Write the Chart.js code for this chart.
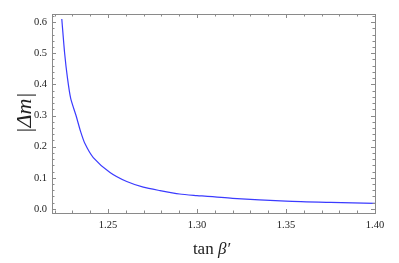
<!DOCTYPE html>
<html>
<head>
<meta charset="utf-8">
<script src="https://cdn.jsdelivr.net/npm/chart.js@4/dist/chart.umd.min.js"></script>
<style>
html,body{margin:0;padding:0;background:#fff;}
#wrap{width:399px;height:263px;position:relative;}
</style>
</head>
<body>
<div id="wrap"><canvas id="c" width="399" height="263"></canvas></div>
<script>
// Data
const tanBeta = [1.2240, 1.2256, 1.2272, 1.2290, 1.2320, 1.2345, 1.2370, 1.2417, 1.2511, 1.2605, 1.2698, 1.2792, 1.2902, 1.3000, 1.3200, 1.3500, 1.3750, 1.4000];
const deltaM  = [0.610, 0.500, 0.420, 0.355, 0.300, 0.250, 0.210, 0.165, 0.117, 0.088, 0.070, 0.059, 0.048, 0.043, 0.034, 0.025, 0.021, 0.018];
const xTickValues = [1.25, 1.30, 1.35, 1.40];
const yTickValues = [0.0, 0.1, 0.2, 0.3, 0.4, 0.5, 0.6];
const xTitleUpright = "tan ";
const xTitleItalic = "β′";
const yTitle = "|Δm|";

const points = tanBeta.map((x, i) => ({x: x, y: deltaM[i]}));

const framePlugin = {
  id: 'frame',
  afterDraw(chart) {
    const ctx = chart.ctx;
    const a = chart.chartArea;
    const xs = chart.scales.x, ys = chart.scales.y;
    ctx.save();
    ctx.strokeStyle = '#8a8a8a';
    ctx.lineWidth = 1;
    ctx.strokeRect(Math.round(a.left) + 0.5, Math.round(a.top) + 0.5, Math.round(a.right - a.left), Math.round(a.bottom - a.top));
    ctx.beginPath();
    for (let k = 122; k <= 140; k++) {
      const v = k / 100;
      if (v < xs.min - 1e-9 || v > xs.max + 1e-9) continue;
      const px = Math.round(xs.getPixelForValue(v)) + 0.5;
      const len = (k % 5 === 0) ? 4 : 2.5;
      ctx.moveTo(px, a.bottom); ctx.lineTo(px, a.bottom - len);
      ctx.moveTo(px, a.top); ctx.lineTo(px, a.top + len);
    }
    for (let k = 0; k <= 31; k++) {
      const v = k * 0.02;
      if (v < ys.min - 1e-9 || v > ys.max + 1e-9) continue;
      const py = Math.round(ys.getPixelForValue(v)) + 0.5;
      const len = (k % 5 === 0) ? 4 : 2.5;
      ctx.moveTo(a.left, py); ctx.lineTo(a.left + len, py);
      ctx.moveTo(a.right, py); ctx.lineTo(a.right - len, py);
    }
    ctx.stroke();

    ctx.fillStyle = '#222';
    ctx.textBaseline = 'alphabetic';
    const f1 = '17px "Liberation Serif", "DejaVu Serif", serif';
    const f2 = 'italic 17px "Liberation Serif", "DejaVu Serif", serif';
    ctx.font = f1; const w1 = ctx.measureText(xTitleUpright).width;
    ctx.font = f2; const w2 = ctx.measureText(xTitleItalic).width;
    const cx = (a.left + a.right) / 2 - 2;
    let sx = cx - (w1 + w2) / 2;
    ctx.font = f1; ctx.textAlign = 'left';
    ctx.fillText(xTitleUpright, sx, 254);
    ctx.font = f2;
    ctx.fillText(xTitleItalic, sx + w1, 254);

    ctx.save();
    ctx.translate(31, 113);
    ctx.rotate(-Math.PI / 2);
    ctx.font = 'italic 22px "Liberation Serif", "DejaVu Serif", serif';
    ctx.textAlign = 'center';
    ctx.fillText(yTitle, 0, 0);
    ctx.restore();
    ctx.restore();
  }
};

new Chart(document.getElementById('c'), {
  type: 'scatter',
  data: {
    datasets: [{
      data: points,
      showLine: true,
      borderColor: '#3b3bff',
      borderWidth: 1.2,
      pointRadius: 0,
      tension: 0.25,
      fill: false
    }]
  },
  options: {
    responsive: false,
    animation: false,
    devicePixelRatio: 1,
    layout: {padding: {left: 0, top: 14, right: 24, bottom: 0}},
    plugins: {legend: {display: false}, tooltip: {enabled: false}},
    scales: {
      x: {
        type: 'linear',
        min: 1.2185, max: 1.40,
        afterBuildTicks: s => { s.ticks = xTickValues.map(v => ({value: v})); },
        afterFit: s => { s.height = 50; },
        grid: {display: false, drawTicks: false},
        border: {display: false},
        ticks: {
          padding: 6,
          color: '#222',
          font: {family: '"Liberation Serif", "DejaVu Serif", serif', size: 10.5},
          callback: v => Number(v).toFixed(2),
          maxRotation: 0, autoSkip: false
        }
      },
      y: {
        type: 'linear',
        min: -0.013, max: 0.626,
        afterBuildTicks: s => { s.ticks = yTickValues.map(v => ({value: v})); },
        afterFit: s => { s.width = 52; },
        grid: {display: false, drawTicks: false},
        border: {display: false},
        ticks: {
          padding: 5,
          color: '#222',
          font: {family: '"Liberation Serif", "DejaVu Serif", serif', size: 10.5},
          callback: v => Number(v).toFixed(1),
          autoSkip: false
        }
      }
    }
  },
  plugins: [framePlugin]
});
</script>
</body>
</html>
